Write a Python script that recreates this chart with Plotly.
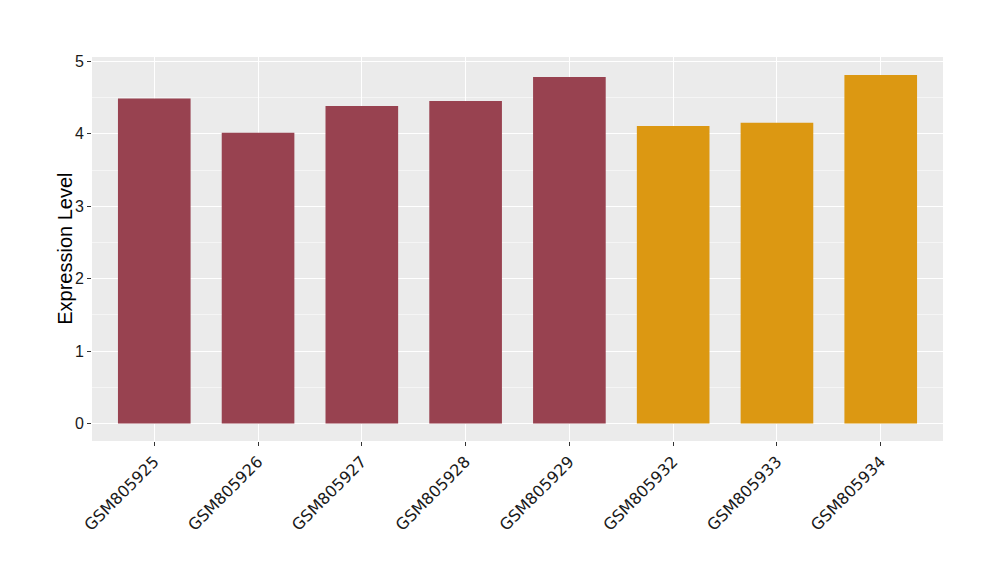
import plotly.graph_objects as go

samples = ["GSM805925", "GSM805926", "GSM805927", "GSM805928", "GSM805929",
           "GSM805932", "GSM805933", "GSM805934"]
values = [4.487, 4.014, 4.386, 4.455, 4.786, 4.110, 4.152, 4.814]
groups = ["A", "A", "A", "A", "A", "B", "B", "B"]
group_colors = {"A": "#984250", "B": "#DC9812"}
y_ticks = [0, 1, 2, 3, 4, 5]

fig = go.Figure()
fig.add_trace(go.Bar(
    x=samples, y=values,
    marker=dict(color=[group_colors[g] for g in groups], line=dict(width=0)),
    width=0.7, showlegend=False,
))

font_family = "Liberation Sans, Arial, sans-serif"
fig.update_layout(
    width=1000, height=580,
    margin=dict(l=84, r=65, t=49, b=147),
    paper_bgcolor="white", plot_bgcolor="#EBEBEB",
    font=dict(family=font_family, color="black"),
    bargap=0.3,
)
fig.update_xaxes(
    range=[-0.6, 7.6], showgrid=True, gridcolor="white", gridwidth=1.4,
    tickangle=-45, tickfont=dict(size=16, color="#1a1a1a", family="DejaVu Sans, sans-serif"),
    ticks="outside", ticklen=4, tickcolor="#333333", tickwidth=1,
    zeroline=False, showline=False, automargin=False,
)
fig.update_yaxes(
    range=[-0.241, 5.061], tickvals=y_ticks, showgrid=True, gridcolor="white", gridwidth=1.4,
    minor=dict(dtick=0.5, tick0=0, showgrid=True, gridcolor="#F5F5F5", gridwidth=0.7),
    tickfont=dict(size=16, color="#1a1a1a"),
    ticks="outside", ticklen=4, tickcolor="#333333", tickwidth=1,
    zeroline=False, showline=False, automargin=False,
)
fig.add_annotation(
    text="Expression Level", textangle=-90, showarrow=False,
    xref="paper", yref="paper", x=-0.032, y=0.5, xanchor="center", yanchor="middle",
    font=dict(size=20, color="black"),
)

fig.write_html("out.html")
